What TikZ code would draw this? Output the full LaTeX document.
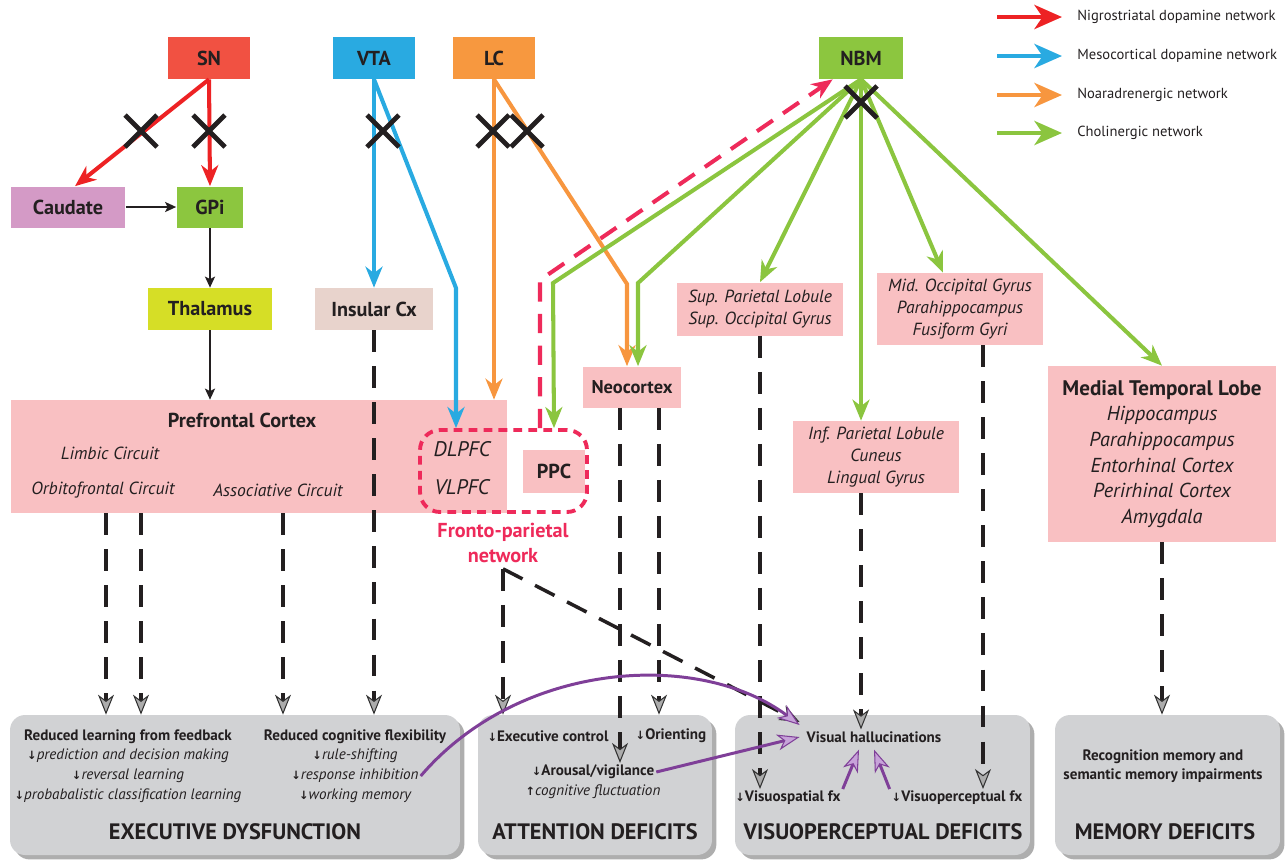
\documentclass[tikz,border=0pt]{standalone}
\usepackage{fontspec}
\setmainfont{PT Sans}
\newfontfamily\symfont{DejaVu Sans}
\usetikzlibrary{arrows.meta,shadows}

% Farben
\definecolor{inkblack}{HTML}{231F20}
\definecolor{snfill}{HTML}{F15142}
\definecolor{vtafill}{HTML}{29AAE1}
\definecolor{lcfill}{HTML}{F7983F}
\definecolor{nbmfill}{HTML}{8CC63F}
\definecolor{caudfill}{HTML}{D49AC6}
\definecolor{thalfill}{HTML}{D6DE26}
\definecolor{insfill}{HTML}{E8D3CC}
\definecolor{pinkbox}{HTML}{F9C0C2}
\definecolor{boxgray}{HTML}{D1D2D4}
\definecolor{nigro}{HTML}{ED2224}
\definecolor{meso}{HTML}{29AAE1}
\definecolor{nora}{HTML}{F7963F}
\definecolor{chol}{HTML}{8BC53F}
\definecolor{fpred}{HTML}{EE2A5A}
\definecolor{vhpurple}{HTML}{7F3F98}
\definecolor{vhlight}{HTML}{C7A3D9}

\newcommand\dnarr{{\symfont\bfseries\fontsize{6.5}{6.5}\selectfont↓}}
\newcommand\uparr{{\symfont\bfseries\fontsize{6.5}{6.5}\selectfont↑}}

\begin{document}
\begin{tikzpicture}[x=0.02cm, y=-0.02cm,
    srcbox/.style={inner sep=0pt, minimum width=1.64cm, minimum height=0.84cm,
      font=\bfseries\fontsize{11.5}{13}\selectfont, text=inkblack},
    areabox/.style={fill=pinkbox, inner sep=0pt, text=inkblack},
    circuit/.style={font=\itshape\fontsize{10}{12}\selectfont, text=inkblack, inner sep=1pt},
    deficit/.style={fill=boxgray, rounded corners=0.3cm, inner sep=0pt, minimum height=2.8cm,
      drop shadow={shadow xshift=2.5pt, shadow yshift=-2.5pt, fill=black!70, opacity=0.45}},
    deftitle/.style={font=\bfseries\fontsize{8.6}{10}\selectfont, text=inkblack, inner sep=1pt},
    defitem/.style={font=\itshape\fontsize{8.6}{10}\selectfont, text=inkblack, inner sep=1pt},
    defhead/.style={font=\bfseries\fontsize{12.7}{14}\selectfont, text=inkblack, inner sep=1pt},
    legendtext/.style={font=\fontsize{8.3}{10}\selectfont, text=inkblack, inner sep=0pt, anchor=west},
    netarrow/.style={line width=2.3pt, -{Stealth[length=0.42cm, width=0.34cm, inset=0.13cm]}},
    legarrow/.style={line width=2.8pt, -{Stealth[length=0.55cm, width=0.48cm, inset=0.16cm]}},
    blackarrow/.style={inkblack, line width=1.5pt, -{Stealth[length=0.22cm, width=0.2cm, inset=0.05cm]}},
    dasharrow/.style={inkblack, line width=2pt, dash pattern=on 12.5pt off 8pt,
      -{Stealth[length=0.4cm, width=0.32cm, inset=0.12cm, fill=gray!65, color=black!80, line width=0.6pt]}},
    purplearrow/.style={vhpurple, line width=1.7pt,
      -{Stealth[length=0.45cm, width=0.32cm, inset=0.13cm, fill=vhlight, color=vhpurple, line width=0.6pt]}},
    blockcross/.pic={\draw[inkblack, line width=2.8pt] (-16,-16) -- (16,16) (-16,16) -- (16,-16);}
  ]
  \useasboundingbox (0,0) rectangle (1287,863);

  % Kerne
  \node[srcbox, fill=snfill] (sn) at (209,58) {SN};
  \node[srcbox, fill=vtafill] (vta) at (374,58) {VTA};
  \node[srcbox, fill=lcfill] (lc) at (494,58) {LC};
  \node[srcbox, fill=nbmfill, minimum width=1.68cm] (nbm) at (861,58) {NBM};
  \node[srcbox, fill=caudfill, minimum width=2.3cm, minimum height=0.82cm] (caud) at (68,207) {Caudate};
  \node[srcbox, fill=nbmfill, minimum width=1.34cm, minimum height=0.82cm] (gpi) at (210,207) {GPi};
  \node[srcbox, fill=thalfill, minimum width=2.48cm] (thal) at (210,309) {Thalamus};
  \node[srcbox, fill=insfill, minimum width=2.36cm] (ins) at (374,309) {Insular Cx};

  % Kortexareale
  \node[areabox, minimum width=9.92cm, minimum height=2.26cm] (pfc) at (259,456.5) {};
  \node[font=\bfseries\fontsize{11.5}{13}\selectfont, text=inkblack] (pfctitle) at (242,420) {Prefrontal Cortex};
  \node[circuit] (limbic) at (110,453) {Limbic Circuit};
  \node[circuit] (orbito) at (103,490) {Orbitofrontal Circuit};
  \node[circuit] (assoc) at (278,490) {Associative Circuit};
  \node[circuit, font=\itshape\fontsize{12}{14}\selectfont] (dlpfc) at (462,449) {DLPFC};
  \node[circuit, font=\itshape\fontsize{12}{14}\selectfont] (vlpfc) at (462,487) {VLPFC};
  \node[srcbox, fill=pinkbox, minimum width=1.24cm, minimum height=0.86cm] (ppc) at (554,471) {PPC};
  \node[draw=fpred, line width=2.2pt, dash pattern=on 5pt off 3.5pt, rounded corners=0.4cm,
    minimum width=3.34cm, minimum height=1.64cm] (fpbox) at (503.5,471) {};
  \node[font=\bfseries\fontsize{11.5}{14}\selectfont, text=fpred, align=center] (fpnet) at (503,543) {Fronto-parietal\\network};
  \node[srcbox, fill=pinkbox, minimum width=1.96cm, minimum height=0.82cm, font=\bfseries\fontsize{10.5}{12}\selectfont] (neo) at (632,387) {Neocortex};
  \node[areabox, minimum width=3.32cm, minimum height=1.06cm, align=center,
    font=\itshape\fontsize{10}{12.5}\selectfont] (sup) at (760,309) {Sup. Parietal Lobule\\Sup. Occipital Gyrus};
  \node[areabox, minimum width=3.32cm, minimum height=1.44cm, align=center,
    font=\itshape\fontsize{10}{12.5}\selectfont] (mid) at (960,309) {Mid. Occipital Gyrus\\Parahippocampus\\Fusiform Gyri};
  \node[areabox, minimum width=3.32cm, minimum height=1.44cm, align=center,
    font=\itshape\fontsize{10}{12.5}\selectfont] (inf) at (876,457) {Inf. Parietal Lobule\\Cuneus\\Lingual Gyrus};
  \node[areabox, minimum width=4.58cm, minimum height=3.52cm, align=center,
    font=\itshape\fontsize{11.5}{14.6}\selectfont] (mtl) at (1162,454)
    {{\upshape\bfseries\fontsize{12}{14.6}\selectfont Medial Temporal Lobe}\\Hippocampus\\Parahippocampus\\Entorhinal Cortex\\Perirhinal Cortex\\Amygdala};

  % Defizite
  \node[deficit, minimum width=9.0cm] (exec) at (235,785) {};
  \node[deficit, minimum width=4.68cm] (attn) at (595,785) {};
  \node[deficit, minimum width=5.9cm] (visu) at (882.5,785) {};
  \node[deficit, minimum width=4.5cm] (mem) at (1167.5,785) {};

  \node[deftitle] (learn) at (128,737) {Reduced learning from feedback};
  \node[defitem] (predict) at (128,756) {\dnarr prediction and decision making};
  \node[defitem] (reversal) at (128,776) {\dnarr reversal learning};
  \node[defitem] (probab) at (128,796) {\dnarr probabalistic classification learning};
  \node[deftitle] (flex) at (355,737) {Reduced cognitive flexibility};
  \node[defitem] (rules) at (355,756) {\dnarr rule-shifting};
  \node[defitem] (respinh) at (355,776) {\dnarr response inhibition};
  \node[defitem] (workmem) at (355,796) {\dnarr working memory};
  \node[defhead] (exechead) at (235,832) {EXECUTIVE DYSFUNCTION};

  \node[deftitle] (execctrl) at (548,736) {\dnarr Executive control};
  \node[deftitle] (orient) at (671,736) {\dnarr Orienting};
  \node[deftitle] (arousal) at (593,772) {\dnarr Arousal/vigilance};
  \node[defitem] (fluct) at (593,792) {\uparr cognitive fluctuation};
  \node[defhead] (attnhead) at (595,832) {ATTENTION DEFICITS};

  \node[deftitle] (vishal) at (874,737) {Visual hallucinations};
  \node[deftitle] (vspat) at (788,798) {\dnarr Visuospatial fx};
  \node[deftitle] (vperc) at (957,798) {\dnarr Visuoperceptual fx};
  \node[defhead] (visuhead) at (883,832) {VISUOPERCEPTUAL DEFICITS};

  \node[deftitle] (recog) at (1163,757) {Recognition memory and};
  \node[deftitle] (semantic) at (1163,776) {semantic memory impairments};
  \node[defhead] (memhead) at (1165,832) {MEMORY DEFICITS};

  % Basalganglien-Schleife
  \draw[blackarrow] (caud) -- (gpi);
  \draw[blackarrow] (gpi) -- (thal);
  \draw[blackarrow] (thal) -- (pfc.north -| thal.south);

  % Nigrostriatal
  \draw[netarrow, nigro] (sn.south) -- ([xshift=0.14cm]caud.north);
  \draw[netarrow, nigro] (sn.south) -- (gpi.north);

  % Mesokortikal
  \draw[netarrow, meso] (vta.south) -- (ins.north);
  \draw[netarrow, meso] (vta.south) -- (456,288) -- (fpbox.north -| 456,0);

  % Noradrenerg
  \draw[netarrow, nora] (lc.south) -- (pfc.north -| lc.south);
  \draw[netarrow, nora] (lc.south) -- (627,284) -- (neo.north -| 627,0);

  % Cholinerg
  \draw[netarrow, chol] (nbm.south) -- (553,283) -- (fpbox.north -| ppc.north);
  \draw[netarrow, chol] (nbm.south) -- (638,283) -- (neo.north -| 638,0);
  \draw[netarrow, chol] (nbm.south) -- (sup.north);
  \draw[netarrow, chol] (nbm.south) -- (inf.north -| nbm.south);
  \draw[netarrow, chol] (nbm.south) -- (mid.north -| 943,0);
  \draw[netarrow, chol] (nbm.south) -- (mtl.north);

  % Fronto-parietal -> NBM
  \draw[fpred, line width=2.3pt, dash pattern=on 11pt off 7pt,
    -{Stealth[length=0.42cm, width=0.34cm, inset=0.13cm]}]
    (fpbox.north -| 540,0) -- (540,280) -- ([xshift=0.28cm]nbm.south west);

  % Ausfaelle
  \pic at (141,131) {blockcross};
  \pic at (209,131) {blockcross};
  \pic at (383,131) {blockcross};
  \pic at (493,131) {blockcross};
  \pic at (527,131) {blockcross};
  \pic at (861,102) {blockcross};

  % Gestrichelte Folgen
  \draw[dasharrow] (pfc.south -| 106,0) -- (exec.north -| 106,0);
  \draw[dasharrow] (pfc.south -| 141,0) -- (exec.north -| 141,0);
  \draw[dasharrow] (pfc.south -| 283,0) -- (exec.north -| 283,0);
  \draw[dasharrow] (ins.south) -- (exec.north -| ins.south);
  \draw[dasharrow] (fpnet.south) -- (attn.north -| fpnet.south);
  \draw[dasharrow] (fpnet.south) -- ([xshift=-0.1cm, yshift=0.3cm]vishal.west);
  \draw[dasharrow] (neo.south -| 620,0) -- (arousal.north -| 620,0);
  \draw[dasharrow] (neo.south -| 659,0) -- (attn.north -| 659,0);
  \draw[dasharrow] (sup.south) -- (vspat.north -| sup.south);
  \draw[dasharrow] (inf.south -| 861,0) -- (vishal.north -| 861,0);
  \draw[dasharrow] (mid.south -| 983,0) -- (vperc.north -| 983,0);
  \draw[dasharrow] (mtl.south) -- (mem.north -| mtl.south);

  % Halluzinationen
  \draw[purplearrow] (respinh.east) .. controls (520,660) and (700,650) .. ([xshift=-0.1cm, yshift=0.24cm]vishal.west);
  \draw[purplearrow] (arousal.east) -- ([xshift=-0.1cm]vishal.west);
  \draw[purplearrow] (vspat.north east) -- ([xshift=-0.3cm, yshift=-0.1cm]vishal.south);
  \draw[purplearrow] (vperc.north west) -- ([yshift=-0.1cm]vishal.south);

  % Legende
  \node[legendtext] (lgnigro) at (1077,17) {Nigrostriatal dopamine network};
  \node[legendtext] (lgmeso) at (1077,56) {Mesocortical dopamine network};
  \node[legendtext] (lgnora) at (1077,95) {Noaradrenergic network};
  \node[legendtext] (lgchol) at (1077,133) {Cholinergic network};
  \coordinate (lgnigrotail) at (997,17);
  \coordinate (lgmesotail) at (997,56);
  \coordinate (lgnoratail) at (997,95);
  \coordinate (lgcholtail) at (997,133);
  \draw[legarrow, nigro] (lgnigrotail) -- ([xshift=-0.3cm]lgnigro.west);
  \draw[legarrow, meso] (lgmesotail) -- ([xshift=-0.3cm]lgmeso.west);
  \draw[legarrow, nora] (lgnoratail) -- ([xshift=-0.3cm]lgnora.west);
  \draw[legarrow, chol] (lgcholtail) -- ([xshift=-0.3cm]lgchol.west);
\end{tikzpicture}
\end{document}
